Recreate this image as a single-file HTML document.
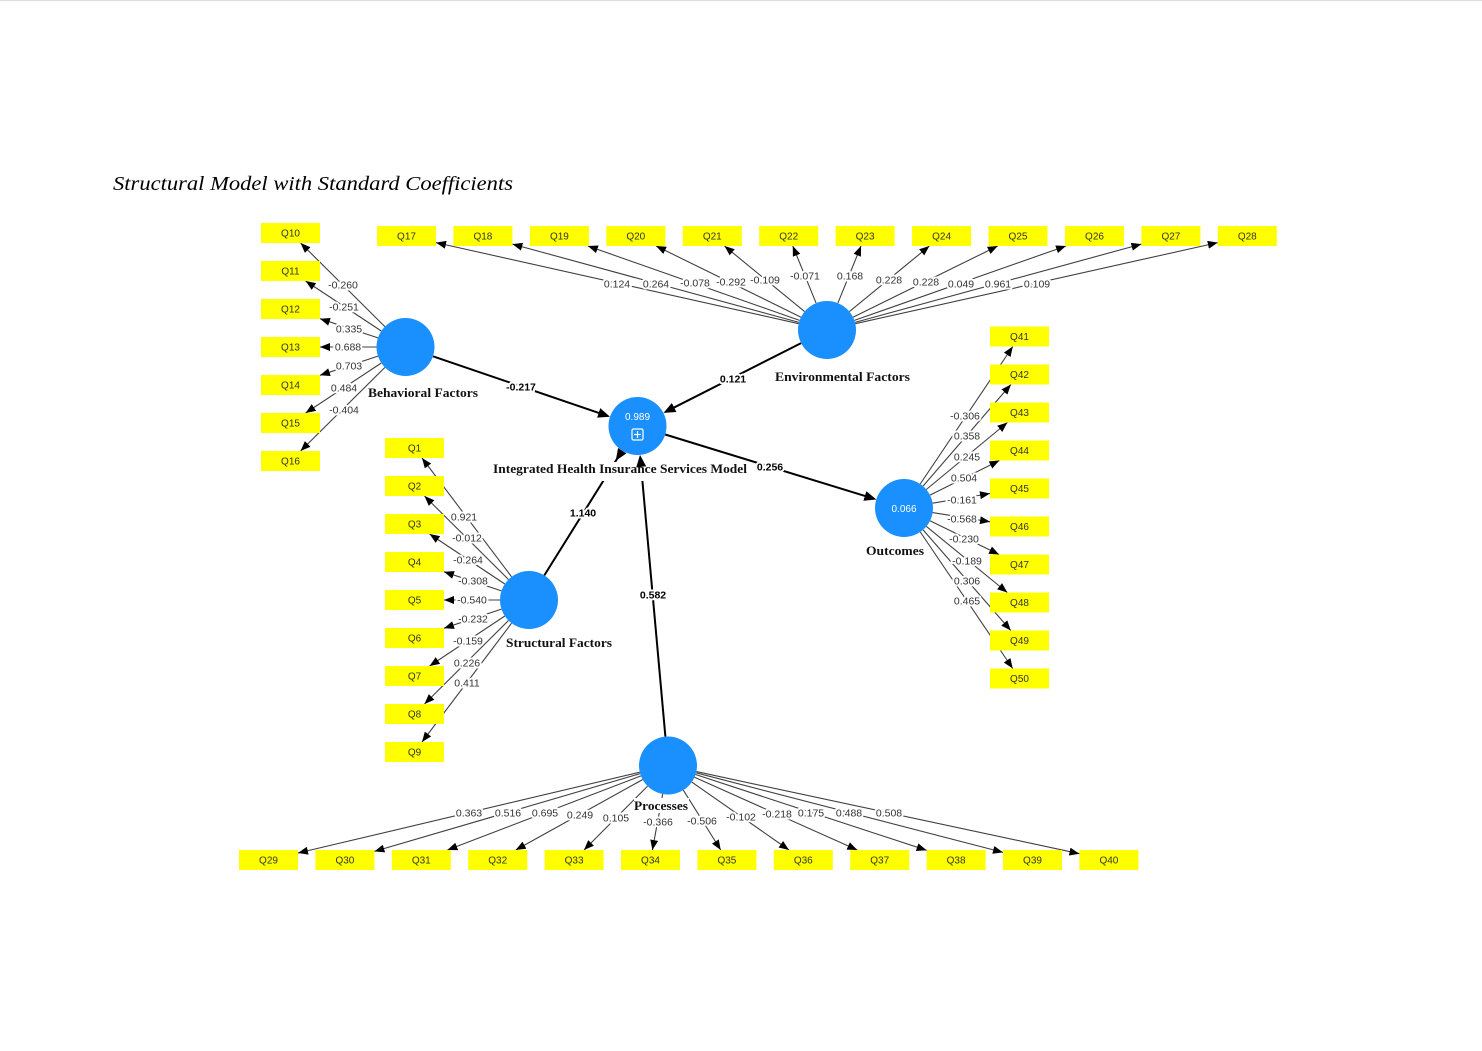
<!DOCTYPE html>
<html><head><meta charset="utf-8"><style>
html,body{margin:0;padding:0;background:#fff;}
svg{display:block;}
.n{font-family:"Liberation Sans",Arial,sans-serif;font-size:10.5px;fill:#333;text-anchor:middle;paint-order:stroke;stroke:#fff;stroke-width:4px;stroke-linejoin:round;}
.b{font-weight:bold;fill:#000;}
.q{font-family:"Liberation Sans",Arial,sans-serif;font-size:10px;fill:#333;text-anchor:middle;}
.t{font-family:"Liberation Serif","Times New Roman",serif;font-weight:bold;font-size:13px;fill:#111;}
.l{stroke:#404040;stroke-width:1.1;fill:none;marker-end:url(#a);}
.s{stroke:#000;stroke-width:2;fill:none;}
.m{marker-end:url(#A);}
.bx rect{fill:#ffff00;}
.c{fill:#1a90ff;}
.w{font-family:"Liberation Sans",Arial,sans-serif;font-size:10px;fill:#fff;text-anchor:middle;}
</style></head><body>
<svg width="1482" height="1051" viewBox="0 0 1482 1051" xmlns="http://www.w3.org/2000/svg">
<defs>
<marker id="a" markerUnits="userSpaceOnUse" markerWidth="10" markerHeight="8" refX="10" refY="4" orient="auto" viewBox="0 0 10 8"><path d="M0,0L10,4L0,8z" fill="#000"/></marker>
<marker id="A" markerUnits="userSpaceOnUse" markerWidth="12" markerHeight="10" refX="6" refY="5" orient="auto" viewBox="0 0 12 10"><path d="M0,0L12,5L0,10z" fill="#000"/></marker>
</defs>
<rect x="0" y="0" width="1482" height="1051" fill="#fff"/>
<rect x="0" y="0" width="1482" height="1" fill="#dcdcdc"/>

<text x="113" y="190" font-family="'Liberation Serif','Times New Roman',serif" font-style="italic" font-size="20" fill="#000" textLength="400" lengthAdjust="spacingAndGlyphs">Structural Model with Standard Coefficients</text>

<!-- Behavioral indicator lines -->
<g>
<line class="l" x1="384.9" y1="326.6" x2="300.6" y2="243"/>
<line class="l" x1="381.3" y1="331" x2="305.6" y2="281"/>
<line class="l" x1="378" y1="337.9" x2="320" y2="318.7"/>
<line class="l" x1="376.5" y1="347" x2="320" y2="347"/>
<line class="l" x1="378" y1="356.1" x2="320" y2="375.3"/>
<line class="l" x1="381.3" y1="363" x2="305.6" y2="413"/>
<line class="l" x1="384.9" y1="367.4" x2="300.6" y2="451"/>
</g>
<!-- Environmental indicator lines -->
<g>
<line class="l" x1="798.7" y1="323.7" x2="436" y2="242.6"/>
<line class="l" x1="799.0" y1="322.4" x2="512.4" y2="244.1"/>
<line class="l" x1="799.6" y1="320.4" x2="587.9" y2="246"/>
<line class="l" x1="801.0" y1="317.2" x2="656.1" y2="246"/>
<line class="l" x1="804.6" y1="311.6" x2="724.5" y2="246"/>
<line class="l" x1="816.1" y1="303.1" x2="792.8" y2="246"/>
<line class="l" x1="837.9" y1="303.1" x2="861.0" y2="246"/>
<line class="l" x1="849.4" y1="311.6" x2="929.4" y2="246"/>
<line class="l" x1="853.0" y1="317.2" x2="997.7" y2="246"/>
<line class="l" x1="854.4" y1="320.4" x2="1066" y2="246"/>
<line class="l" x1="855.0" y1="322.4" x2="1141.4" y2="244.1"/>
<line class="l" x1="855.3" y1="323.7" x2="1217.8" y2="242.6"/>
</g>
<!-- Outcomes indicator lines -->
<g>
<line class="l" x1="920.2" y1="484" x2="1012.8" y2="346.5"/>
<line class="l" x1="923.0" y1="486.1" x2="1010.9" y2="384.5"/>
<line class="l" x1="926.3" y1="489.5" x2="1007.4" y2="422.5"/>
<line class="l" x1="930" y1="495.1" x2="999.4" y2="460.5"/>
<line class="l" x1="932.6" y1="503.2" x2="990" y2="493.5"/>
<line class="l" x1="932.6" y1="512.6" x2="990" y2="521.8"/>
<line class="l" x1="930.0" y1="520.7" x2="999.1" y2="554.5"/>
<line class="l" x1="926.4" y1="526.4" x2="1007.3" y2="592.5"/>
<line class="l" x1="923.1" y1="529.9" x2="1010.8" y2="630.5"/>
<line class="l" x1="920.3" y1="532.0" x2="1012.7" y2="668.5"/>
</g>
<!-- Structural indicator lines -->
<g>
<line class="l" x1="511.6" y1="576.8" x2="422.0" y2="458"/>
<line class="l" x1="508.5" y1="579.5" x2="424.5" y2="496"/>
<line class="l" x1="504.8" y1="584.0" x2="429.6" y2="534"/>
<line class="l" x1="501.5" y1="590.9" x2="444" y2="571.8"/>
<line class="l" x1="500" y1="600" x2="444" y2="600"/>
<line class="l" x1="501.5" y1="609.1" x2="444" y2="628.2"/>
<line class="l" x1="504.8" y1="616" x2="429.6" y2="666"/>
<line class="l" x1="508.5" y1="620.5" x2="424.5" y2="704"/>
<line class="l" x1="511.6" y1="623.2" x2="422.0" y2="742"/>
</g>
<!-- Processes indicator lines -->
<g>
<line class="l" x1="639.8" y1="772.2" x2="298" y2="853.0"/>
<line class="l" x1="640.2" y1="773.6" x2="374.4" y2="851.4"/>
<line class="l" x1="640.9" y1="775.9" x2="447.4" y2="850"/>
<line class="l" x1="642.6" y1="779.6" x2="515.7" y2="850"/>
<line class="l" x1="647.6" y1="786.1" x2="584.0" y2="850"/>
<line class="l" x1="662.7" y1="794.0" x2="652.4" y2="850"/>
<line class="l" x1="683.3" y1="790.1" x2="720.7" y2="850"/>
<line class="l" x1="691.8" y1="782.1" x2="789.0" y2="850"/>
<line class="l" x1="694.5" y1="777.3" x2="857.3" y2="850"/>
<line class="l" x1="695.6" y1="774.5" x2="926.6" y2="850.3"/>
<line class="l" x1="696.1" y1="772.8" x2="1003" y2="852.4"/>
<line class="l" x1="696.4" y1="771.6" x2="1079.4" y2="853.7"/>
</g>

<!-- Structural paths -->
<line class="s m" x1="433" y1="356.3" x2="604.3" y2="414.8"/>
<line class="s m" x1="801.1" y1="343.1" x2="668.8" y2="410.2"/>
<line class="s m" x1="665.2" y1="434.5" x2="870.6" y2="497.7"/>
<line class="s" x1="544.3" y1="575.4" x2="619.0" y2="455.7"/>
<line class="s" x1="665.4" y1="736.6" x2="640.6" y2="460.9"/>

<!-- Node label backgrounds -->
<rect x="490" y="462" width="259" height="19" fill="#fff"/>
<rect x="634" y="798" width="55" height="15" fill="#fff"/>

<!-- arrowheads over label bg -->
<line class="s m" x1="620.1" y1="454.0" x2="619.0" y2="455.7"/>
<line class="s m" x1="640.8" y1="462.9" x2="640.6" y2="460.9"/>

<!-- Boxes -->
<g class="bx">
<rect x="261" y="223" width="59" height="20"/><rect x="261" y="261" width="59" height="20"/><rect x="261" y="299" width="59" height="20"/><rect x="261" y="337" width="59" height="20"/><rect x="261" y="375" width="59" height="20"/><rect x="261" y="413" width="59" height="20"/><rect x="261" y="451" width="59" height="20"/>
<rect x="385" y="438" width="59" height="20"/><rect x="385" y="476" width="59" height="20"/><rect x="385" y="514" width="59" height="20"/><rect x="385" y="552" width="59" height="20"/><rect x="385" y="590" width="59" height="20"/><rect x="385" y="628" width="59" height="20"/><rect x="385" y="666" width="59" height="20"/><rect x="385" y="704" width="59" height="20"/><rect x="385" y="742" width="59" height="20"/>
<rect x="377" y="226" width="59" height="20"/><rect x="453.4" y="226" width="59" height="20"/><rect x="529.9" y="226" width="59" height="20"/><rect x="606.3" y="226" width="59" height="20"/><rect x="682.8" y="226" width="59" height="20"/><rect x="759.2" y="226" width="59" height="20"/><rect x="835.6" y="226" width="59" height="20"/><rect x="912.1" y="226" width="59" height="20"/><rect x="988.5" y="226" width="59" height="20"/><rect x="1065" y="226" width="59" height="20"/><rect x="1141.4" y="226" width="59" height="20"/><rect x="1217.8" y="226" width="59" height="20"/>
<rect x="990" y="326.5" width="59" height="20"/><rect x="990" y="364.5" width="59" height="20"/><rect x="990" y="402.5" width="59" height="20"/><rect x="990" y="440.5" width="59" height="20"/><rect x="990" y="478.5" width="59" height="20"/><rect x="990" y="516.5" width="59" height="20"/><rect x="990" y="554.5" width="59" height="20"/><rect x="990" y="592.5" width="59" height="20"/><rect x="990" y="630.5" width="59" height="20"/><rect x="990" y="668.5" width="59" height="20"/>
<rect x="239" y="850" width="59" height="20"/><rect x="315.4" y="850" width="59" height="20"/><rect x="391.8" y="850" width="59" height="20"/><rect x="468.2" y="850" width="59" height="20"/><rect x="544.6" y="850" width="59" height="20"/><rect x="621" y="850" width="59" height="20"/><rect x="697.4" y="850" width="59" height="20"/><rect x="773.8" y="850" width="59" height="20"/><rect x="850.2" y="850" width="59" height="20"/><rect x="926.6" y="850" width="59" height="20"/><rect x="1003" y="850" width="59" height="20"/><rect x="1079.4" y="850" width="59" height="20"/>
</g>
<g class="q">
<text x="290.5" y="236.5">Q10</text><text x="290.5" y="274.5">Q11</text><text x="290.5" y="312.5">Q12</text><text x="290.5" y="350.5">Q13</text><text x="290.5" y="388.5">Q14</text><text x="290.5" y="426.5">Q15</text><text x="290.5" y="464.5">Q16</text>
<text x="414.5" y="451.5">Q1</text><text x="414.5" y="489.5">Q2</text><text x="414.5" y="527.5">Q3</text><text x="414.5" y="565.5">Q4</text><text x="414.5" y="603.5">Q5</text><text x="414.5" y="641.5">Q6</text><text x="414.5" y="679.5">Q7</text><text x="414.5" y="717.5">Q8</text><text x="414.5" y="755.5">Q9</text>
<text x="406.5" y="239.5">Q17</text><text x="482.9" y="239.5">Q18</text><text x="559.4" y="239.5">Q19</text><text x="635.8" y="239.5">Q20</text><text x="712.3" y="239.5">Q21</text><text x="788.7" y="239.5">Q22</text><text x="865.1" y="239.5">Q23</text><text x="941.6" y="239.5">Q24</text><text x="1018" y="239.5">Q25</text><text x="1094.5" y="239.5">Q26</text><text x="1170.9" y="239.5">Q27</text><text x="1247.3" y="239.5">Q28</text>
<text x="1019.5" y="340">Q41</text><text x="1019.5" y="378">Q42</text><text x="1019.5" y="416">Q43</text><text x="1019.5" y="454">Q44</text><text x="1019.5" y="492">Q45</text><text x="1019.5" y="530">Q46</text><text x="1019.5" y="568">Q47</text><text x="1019.5" y="606">Q48</text><text x="1019.5" y="644">Q49</text><text x="1019.5" y="682">Q50</text>
<text x="268.5" y="863.5">Q29</text><text x="344.9" y="863.5">Q30</text><text x="421.3" y="863.5">Q31</text><text x="497.7" y="863.5">Q32</text><text x="574.1" y="863.5">Q33</text><text x="650.5" y="863.5">Q34</text><text x="726.9" y="863.5">Q35</text><text x="803.3" y="863.5">Q36</text><text x="879.7" y="863.5">Q37</text><text x="956.1" y="863.5">Q38</text><text x="1032.5" y="863.5">Q39</text><text x="1108.9" y="863.5">Q40</text>
</g>

<!-- Coefficient labels -->
<g class="n">
<text x="343" y="288.7">-0.260</text><text x="344" y="310.7">-0.251</text><text x="349" y="332.7">0.335</text><text x="348" y="350.7">0.688</text><text x="349" y="369.7">0.703</text><text x="344" y="391.7">0.484</text><text x="344" y="413.7">-0.404</text>
<text x="617" y="287.7">0.124</text><text x="656" y="287.7">0.264</text><text x="695" y="286.7">-0.078</text><text x="731" y="285.7">-0.292</text><text x="765" y="283.7">-0.109</text><text x="805" y="279.7">-0.071</text><text x="850" y="279.7">0.168</text><text x="889" y="283.7">0.228</text><text x="926" y="285.7">0.228</text><text x="961" y="287.7">0.049</text><text x="998" y="287.7">0.961</text><text x="1037" y="287.7">0.109</text>
<text x="965" y="419.7">-0.306</text><text x="967" y="439.7">0.358</text><text x="967" y="460.7">0.245</text><text x="964" y="481.7">0.504</text><text x="962" y="503.7">-0.161</text><text x="962" y="522.7">-0.568</text><text x="964" y="542.7">-0.230</text><text x="967" y="564.7">-0.189</text><text x="967" y="584.7">0.306</text><text x="967" y="604.7">0.465</text>
<text x="464" y="520.7">0.921</text><text x="467" y="541.7">-0.012</text><text x="468" y="563.7">-0.264</text><text x="473" y="584.7">-0.308</text><text x="472" y="603.7">-0.540</text><text x="473" y="622.7">-0.232</text><text x="468" y="644.7">-0.159</text><text x="467" y="666.7">0.226</text><text x="467" y="686.7">0.411</text>
<text x="469" y="816.7">0.363</text><text x="508" y="816.7">0.516</text><text x="545" y="816.7">0.695</text><text x="580" y="818.7">0.249</text><text x="616" y="821.7">0.105</text><text x="658" y="825.7">-0.366</text><text x="702" y="824.7">-0.506</text><text x="741" y="820.7">-0.102</text><text x="777" y="817.7">-0.218</text><text x="811" y="816.7">0.175</text><text x="849" y="816.7">0.488</text><text x="889" y="816.7">0.508</text>
<text class="b" x="521" y="390.7">-0.217</text><text class="b" x="733" y="382.7">0.121</text><text class="b" x="770" y="470.7">0.256</text><text class="b" x="583" y="516.7">1.140</text><text class="b" x="653" y="598.7">0.582</text>
</g>

<!-- Circles -->
<circle class="c" cx="405.5" cy="347" r="29"/>
<circle class="c" cx="827" cy="330" r="29"/>
<circle class="c" cx="637.5" cy="426" r="29"/>
<circle class="c" cx="904" cy="508" r="29"/>
<circle class="c" cx="529" cy="600" r="29"/>
<circle class="c" cx="668" cy="765.5" r="29"/>
<text class="w" x="637.5" y="420">0.989</text>
<rect x="632" y="429" width="11" height="11" rx="1.5" fill="none" stroke="#fff" stroke-width="1.2"/>
<line x1="637.5" y1="431" x2="637.5" y2="438" stroke="#fff" stroke-width="1.2"/>
<line x1="634" y1="434.5" x2="641" y2="434.5" stroke="#fff" stroke-width="1.2"/>
<text class="w" x="904" y="512">0.066</text>

<!-- Node labels -->
<text class="t" x="368" y="397" textLength="110" lengthAdjust="spacingAndGlyphs">Behavioral Factors</text>
<text class="t" x="775" y="381" textLength="135" lengthAdjust="spacingAndGlyphs">Environmental Factors</text>
<text class="t" x="493" y="473" textLength="254" lengthAdjust="spacingAndGlyphs">Integrated Health Insurance Services Model</text>
<text class="t" x="866" y="555" textLength="58" lengthAdjust="spacingAndGlyphs">Outcomes</text>
<text class="t" x="506" y="647" textLength="106" lengthAdjust="spacingAndGlyphs">Structural Factors</text>
<text class="t" x="634" y="810" textLength="54" lengthAdjust="spacingAndGlyphs">Processes</text>
</svg>
</body></html>
